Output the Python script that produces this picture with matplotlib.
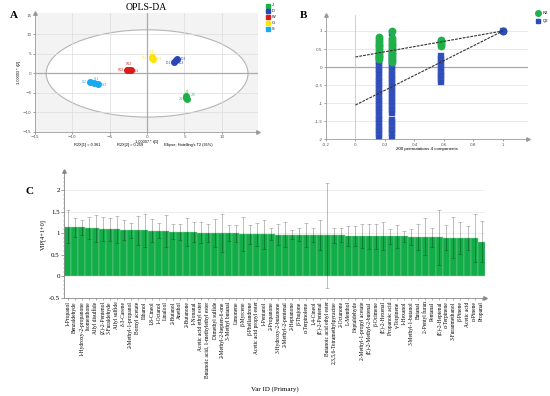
import matplotlib
matplotlib.use('Agg')
import matplotlib.pyplot as plt
from matplotlib.patches import Ellipse
import numpy as np

SERIF = ['Liberation Serif', 'DejaVu Serif']
SANS = ['Liberation Sans', 'DejaVu Sans']

# ---------------- A: OPLS-DA scores ----------------
groups = ['J', 'D', 'W', 'G', 'S']
group_colors = ['#1fae4a', '#2a46b6', '#d81b1b', '#ffe400', '#1aa8ee']
score_t1 = [[5.2, 5.25, 5.3], [3.6, 3.8, 4.0], [-2.7, -2.45, -2.2],
            [0.6, 0.7, 0.85], [-7.6, -7.1, -6.6]]
score_t2 = [[-5.8, -6.2, -6.5], [3.0, 3.4, 3.7], [1.0, 0.9, 0.8],
            [4.3, 4.0, 3.8], [-2.3, -2.4, -2.8]]
sample_labels = [['J-1', 'J-2', 'J-3'], ['D-1', 'D-2', 'D-3'], ['W-1', 'W-2', 'W-3'],
                 ['G-1', 'G-2', 'G-3'], ['S-1', 'S-2', 'S-3']]
label_t1 = [[5.4, 4.5, 6.2], [2.8, 4.8, 4.6], [-1.5, -2.4, -3.5],
            [0.6, -0.4, 1.7], [-6.8, -8.4, -5.7]]
label_t2 = [[-4.8, -6.5, -5.5], [2.8, 3.7, 2.6], [0.7, 2.4, 0.9],
            [5.6, 3.9, 3.7], [-1.5, -2.3, -2.9]]
ellipse_a, ellipse_b = 13.5, 11.2

# ---------------- B: permutation test ----------------
perm_x = [0.16, 0.25, 0.58, 1.0]
r2_vals = [
    [0.83, 0.78, 0.72, 0.67, 0.62, 0.57, 0.52, 0.47, 0.42, 0.37, 0.32, 0.27, 0.22],
    [1.0, 0.80, 0.75, 0.70, 0.65, 0.60, 0.55, 0.50, 0.45, 0.40, 0.35, 0.30, 0.25, 0.20, 0.15],
    [0.75, 0.71, 0.67, 0.63, 0.59],
    [1.0],
]
q2_vals = [
    [0.30, 0.24, 0.17, 0.10, 0.03, -0.05, -0.12, -0.20, -0.27, -0.35, -0.42, -0.50,
     -0.57, -0.65, -0.72, -0.80, -0.87, -0.95, -1.02, -1.10, -1.17, -1.25, -1.32,
     -1.40, -1.47, -1.55, -1.62, -1.70, -1.77, -1.85, -1.92],
    [0.95, 0.35, 0.28, 0.21, 0.14, 0.07, 0.0, -0.08, -0.15, -0.22, -0.30, -0.37,
     -0.45, -0.52, -0.60, -0.67, -0.75, -0.82, -0.90, -0.97, -1.05, -1.12, -1.20,
     -1.28, -1.45, -1.52, -1.60, -1.68, -1.75, -1.83, -1.92],
    [0.30, 0.22, 0.14, 0.06, -0.02, -0.10, -0.18, -0.26, -0.34, -0.42],
    [1.0],
]
r2_intercept, q2_intercept = 0.28, -1.05

# ---------------- C: VIP ----------------
compounds = [
    '1-Propanol', 'Benzaldehyde', '1-Hydroxy-2-propanone', 'Isomenthone', 'Allyl disulfide',
    '(Z)-2-Pentenol', '3-Furaldehyde', 'Allyl sulfide', 'δ-3-Carene', '2-Methyl-1-propanol',
    'Bornyl acetate', 'Ethanol', '1,8-Cineol', '1-Octanol', 'Linalool',
    '2-Butanol', 'Anethol', '2-Butanone', '1-Nonanal', 'Acetic acid ethyl ester',
    'Butanoic acid, 1-methylethyl ester', 'Dimethyl sulfide', '2-Methyl-2-hepten-6-one',
    '3-Methyl butanal', 'Limonene', 'β-Myrcene', 'β-Phellandrene', 'Acetic acid propyl ester',
    '1-Pentanol', '2-Propanone', '3-Hydroxy-2-butanone', '2-Methyl-2-pentenal', '2-Heptanone',
    'β-Thujone', 'α-Terpinolene', '1,4-Cineol', '(E)-2-Pentenal', 'Butanoic acid ethyl ester',
    '2,3,5,6-Tetramethylpyrazine', '2-Octanone', 'L-Menthol', 'Heptaldehyde',
    '2-Methyl-1-propyl acetate', '(E)-2-Methyl-2-butenal', 'β-Ocimene', '(E)-2-Hexenal',
    'Propanoic acid', 'γ-Terpinene', '1-Hexanol', '3-Methyl-1-butanol', 'Butanal',
    '2-Pentyl furan', 'Pentanal', '(E)-2-Heptenal', 'α-Terpinene', '3-Furanmethanol',
    'β-Pinene', 'Acetic acid', 'α-Pinene', 'Propanal',
]
vip = [1.155, 1.14, 1.14, 1.13, 1.12, 1.10, 1.10, 1.095, 1.085, 1.075,
       1.07, 1.07, 1.065, 1.065, 1.055, 1.04, 1.035, 1.03, 1.025, 1.02,
       1.02, 1.015, 1.01, 1.005, 1.0, 0.99, 0.985, 0.98, 0.98, 0.98,
       0.975, 0.975, 0.97, 0.97, 0.965, 0.965, 0.965, 0.96, 0.955, 0.955,
       0.95, 0.95, 0.945, 0.94, 0.94, 0.935, 0.935, 0.93, 0.93, 0.925,
       0.92, 0.92, 0.915, 0.91, 0.905, 0.90, 0.895, 0.89, 0.885, 0.81]
vip_err = [0.38, 0.23, 0.17, 0.26, 0.32, 0.28, 0.27, 0.32, 0.23, 0.17,
           0.33, 0.39, 0.27, 0.18, 0.37, 0.17, 0.19, 0.32, 0.23, 0.25,
           0.21, 0.32, 0.45, 0.19, 0.19, 0.39, 0.22, 0.27, 0.33, 0.14,
           0.24, 0.28, 0.10, 0.15, 0.28, 0.16, 0.35, 1.22, 0.17, 0.165,
           0.23, 0.23, 0.28, 0.29, 0.29, 0.33, 0.17, 0.27, 0.13, 0.19,
           0.31, 0.43, 0.22, 0.64, 0.29, 0.48, 0.37, 0.28, 0.56, 0.48]


def arrow_axes(ax, color='#9a9a9a'):
    ax.plot(1, 0, '>', color=color, ms=2.5, transform=ax.transAxes, clip_on=False)
    ax.plot(0, 1, '^', color=color, ms=2.5, transform=ax.transAxes, clip_on=False)
    for s in ['top', 'right']:
        ax.spines[s].set_visible(False)
    for s in ['left', 'bottom']:
        ax.spines[s].set_color(color)
        ax.spines[s].set_linewidth(0.6)


def px(x, y):
    # pixel position -> figure fraction
    return x / 550, 1 - y / 396


fig = plt.figure(figsize=(5.5, 3.96), dpi=100)

# ===== A =====
axA = fig.add_axes([0.0636, 0.667, 0.405, 0.300])
axA.set_facecolor('#f3f3f3')
axA.set_xlim(-15, 14.8)
axA.set_ylim(-15, 15.5)
axA.add_patch(Ellipse((0, 0), 2 * ellipse_a, 2 * ellipse_b, facecolor='white',
                      edgecolor='#b5b5b5', linewidth=0.8, zorder=0.5))
for v in [-10, -5, 5, 10]:
    axA.axvline(v, color='#dddddd', lw=0.5, zorder=0.8)
    axA.axhline(v, color='#dddddd', lw=0.5, zorder=0.8)
axA.axvline(0, color='#aaaaaa', lw=0.9, zorder=0.9)
axA.axhline(0, color='#aaaaaa', lw=0.9, zorder=0.9)
for g, c, xs, ys, labs, lx, ly in zip(groups, group_colors, score_t1, score_t2,
                                      sample_labels, label_t1, label_t2):
    axA.plot(xs, ys, 'o', color=c, ms=4.0, mec=c, zorder=3)
    for t, x, y in zip(labs, lx, ly):
        axA.text(x, y, t, color=c, fontsize=2.3, ha='center', va='center',
                 family=SANS, zorder=4)
axA.set_xticks([-15, -10, -5, 0, 5, 10])
axA.set_yticks([-15, -10, -5, 0, 5, 10, 15])
axA.tick_params(labelsize=3, length=1.5, width=0.4, colors='#555555', pad=1)
arrow_axes(axA)
axA.set_title('OPLS-DA', fontsize=7, family=SERIF, pad=2)
axA.set_xlabel('1.00007 * t[1]', fontsize=2.8, family=SANS, labelpad=0.5)
axA.set_ylabel('1.00003 * t[2]', fontsize=2.8, family=SANS, labelpad=1)
fig.text(*px(87, 145), 'R2X[1] = 0.361', fontsize=2.8, family=SANS,
         ha='center', va='center')
fig.text(*px(130, 145), 'R2X[2] = 0.259', fontsize=2.8, family=SANS,
         ha='center', va='center')
fig.text(*px(188, 145), "Ellipse: Hotelling's T2 (95%)", fontsize=2.8,
         family=SANS, ha='center', va='center')
# legend A (squares stacked at the top right)
for i, (g, c) in enumerate(zip(groups, group_colors)):
    yy = 5.5 + i * 5.9
    fig.lines.append(plt.Line2D([px(268, yy)[0]], [px(268, yy)[1]], marker='s', ms=3.0,
                                color=c, mec=c, transform=fig.transFigure))
    fig.text(*px(271.5, yy), g, fontsize=2.8, family=SANS, ha='left', va='center')

# ===== B =====
axB = fig.add_axes([0.5927, 0.648, 0.3673, 0.314])
axB.set_xlim(-0.2, 1.17)
axB.set_ylim(-2, 1.44)
for v in [-1.5, -1, -0.5, 0.5, 1]:
    axB.axhline(v, color='#e2e2e2', lw=0.5, zorder=0)
axB.axhline(0, color='#a8a8a8', lw=0.9, zorder=0.5)
axB.axvline(0, color='#c8c8c8', lw=0.6, zorder=0.5)
for x, ys in zip(perm_x, q2_vals):
    axB.plot([x] * len(ys), ys, 's', color='#2d4bb6', ms=4.2, mec='#4a66cc',
             mew=0.3, zorder=2)
for x, ys in zip(perm_x, r2_vals):
    axB.plot([x] * len(ys), ys, 'o', color='#20b04a', ms=4.6, mec='#20b04a', zorder=3)
axB.plot(1.0, 1.0, 'o', color='#2d4bb6', ms=4.6, zorder=4)
axB.plot([0, 1], [r2_intercept, 1.0], '--', color='#333333', lw=0.8, dashes=(2.5, 1), zorder=5)
axB.plot([0, 1], [q2_intercept, 1.0], '--', color='#333333', lw=0.8, dashes=(2.5, 1), zorder=5)
axB.set_xticks([-0.2, 0, 0.2, 0.4, 0.6, 0.8, 1])
axB.set_xticklabels(['-0.2', '0', '0.2', '0.4', '0.6', '0.8', '1'])
axB.set_yticks([-2, -1.5, -1, -0.5, 0, 0.5, 1])
axB.set_yticklabels(['-2', '-1.5', '-1', '-0.5', '0', '0.5', '1'])
axB.tick_params(labelsize=3, length=1.5, width=0.4, colors='#555555', pad=1)
arrow_axes(axB)
axB.set_xlabel('200 permutations 4 components', fontsize=3.2, family=SANS, labelpad=0)
fig.lines.append(plt.Line2D([px(538, 13.3)[0]], [px(538, 13.3)[1]], marker='o', ms=4.0,
                            color='#20b04a', transform=fig.transFigure))
fig.lines.append(plt.Line2D([px(538, 20.7)[0]], [px(538, 20.7)[1]], marker='s', ms=3.4,
                            color='#2d4bb6', transform=fig.transFigure))
fig.text(*px(543, 13.3), 'R2', fontsize=3, family=SANS, ha='left', va='center')
fig.text(*px(543, 20.7), 'Q2', fontsize=3, family=SANS, ha='left', va='center')

# ===== C =====
axC = fig.add_axes([0.1164, 0.2475, 0.7655, 0.3205])
xpos = np.arange(len(compounds))
axC.bar(xpos, vip, width=1.0, color='#10ad48', edgecolor='#9ccfa8', linewidth=0.3, zorder=2)
axC.errorbar(xpos, vip, yerr=vip_err, fmt='none', ecolor=(0, 0, 0, 0.3),
             elinewidth=0.6, capsize=1.2, capthick=0.5, zorder=3)
axC.set_xlim(-0.5, len(compounds) - 0.5)
axC.set_ylim(-0.5, 2.45)
for v in [0.5, 1, 1.5, 2]:
    axC.axhline(v, color='#e6e6e6', lw=0.5, zorder=0)
axC.set_yticks([-0.5, 0, 0.5, 1, 1.5, 2])
axC.set_yticklabels(['-0.5', '0', '0.5', '1', '1.5', '2'], family=SERIF)
axC.set_yticks(np.arange(-0.5, 2.41, 0.1), minor=True)
axC.set_xticks(xpos)
axC.set_xticklabels(compounds, rotation=90, fontsize=4, family=SERIF)
axC.tick_params(axis='y', labelsize=5, length=2, width=0.4, colors='#555555', pad=1)
axC.tick_params(axis='y', which='minor', length=1, width=0.3, colors='#777777')
axC.tick_params(axis='x', length=1.5, width=0.4, colors='#777777', pad=1)
for lab in axC.get_xticklabels() + axC.get_yticklabels():
    lab.set_color('black')
arrow_axes(axC, color='#888888')
axC.set_ylabel('VIP[4+1+0]', fontsize=4.5, family=SERIF, labelpad=2)
fig.text(*px(275, 389), 'Var ID (Primary)', fontsize=5, family=SERIF,
         ha='center', va='center')

# panel letters
fig.text(*px(10, 15), 'A', fontsize=8, fontweight='bold', family=SERIF, ha='left', va='center')
fig.text(*px(300, 15), 'B', fontsize=8, fontweight='bold', family=SERIF, ha='left', va='center')
fig.text(*px(25, 192), 'C', fontsize=8, fontweight='bold', family=SERIF, ha='left', va='center')

fig.savefig('out.png', dpi=100, facecolor='white')
